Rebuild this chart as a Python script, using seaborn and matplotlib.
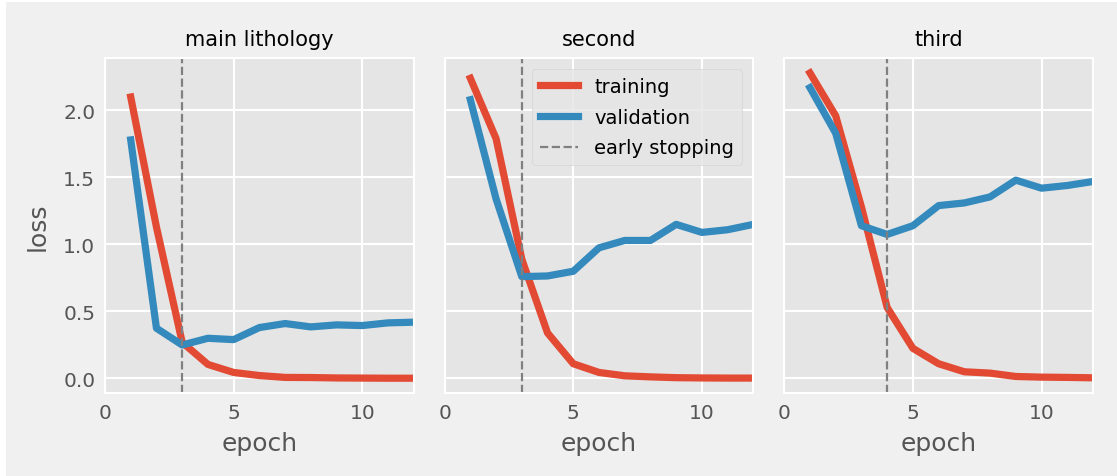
import numpy as np
import pandas as pd
import matplotlib
matplotlib.use("Agg")
import matplotlib.pyplot as plt
import seaborn as sns
from matplotlib.patches import Rectangle
from matplotlib.lines import Line2D

epochs = list(range(1, 13))
panels = ["main lithology", "second", "third"]

train_main = [2.10, 1.13, 0.27, 0.105, 0.045, 0.022, 0.008, 0.007, 0.004, 0.003, 0.002, 0.002]
val_main = [1.78, 0.375, 0.25, 0.30, 0.29, 0.38, 0.41, 0.385, 0.40, 0.395, 0.415, 0.42]
train_second = [2.24, 1.79, 0.89, 0.34, 0.11, 0.045, 0.02, 0.012, 0.006, 0.004, 0.003, 0.003]
val_second = [2.08, 1.34, 0.76, 0.765, 0.80, 0.975, 1.03, 1.03, 1.15, 1.09, 1.11, 1.15]
train_third = [2.28, 1.96, 1.28, 0.53, 0.225, 0.11, 0.05, 0.04, 0.015, 0.01, 0.008, 0.005]
val_third = [2.17, 1.83, 1.14, 1.075, 1.14, 1.29, 1.31, 1.355, 1.48, 1.42, 1.44, 1.47]
early_stop = [3, 3, 4]

train_all = [train_main, train_second, train_third]
val_all = [val_main, val_second, val_third]

rows = []
for p, tr, va in zip(panels, train_all, val_all):
    for e, t, v in zip(epochs, tr, va):
        rows.append({"panel": p, "epoch": e, "loss": t, "kind": "training"})
        rows.append({"panel": p, "epoch": e, "loss": v, "kind": "validation"})
df = pd.DataFrame(rows)

plt.style.use("ggplot")
plt.rcParams["font.family"] = ["DejaVu Sans"]

fig, axes = plt.subplots(1, 3, figsize=(11.17, 4.77), dpi=100, sharey=True)
fig.patch.set_facecolor("white")
fig.patches.append(Rectangle((6 / 1117, 0), 1, 1 - 3 / 477, transform=fig.transFigure,
                             facecolor="#f0f0f0", edgecolor="none", zorder=-10))
fig.subplots_adjust(left=0.094, right=0.9785, top=0.877, bottom=0.173, wspace=0.1)

palette = {"training": "#E24A33", "validation": "#348ABD"}

for i, (ax, p) in enumerate(zip(axes, panels)):
    sub = df[df["panel"] == p]
    sns.lineplot(data=sub, x="epoch", y="loss", hue="kind", palette=palette,
                 linewidth=5.2, ax=ax, legend=False)
    ax.axvline(early_stop[i], color="grey", linestyle="--", linewidth=1.6,
               label="early stopping")
    ax.set_facecolor("#E5E5E5")
    ax.set_xlim(0, 12)
    ax.set_xticks([0, 5, 10])
    ax.set_yticks([0.0, 0.5, 1.0, 1.5, 2.0])
    ax.grid(True, color="white", linewidth=1.5)
    for s in ax.spines.values():
        s.set_visible(True)
        s.set_color("white")
        s.set_linewidth(1.5)
    ax.tick_params(axis="both", length=0, labelsize=14.5, labelcolor="#555555", pad=7)
    ax.set_title(p, fontsize=15, color="black", pad=9)
    ax.set_xlabel("epoch", fontsize=18, color="#555555", labelpad=6)
    if i == 0:
        ax.set_ylabel("loss", fontsize=18, color="#555555", labelpad=10)
    else:
        ax.set_ylabel("")

ax = axes[1]
handles = [Line2D([], [], color="#E24A33", lw=5.2),
           Line2D([], [], color="#348ABD", lw=5.2),
           Line2D([], [], color="grey", lw=1.6, ls="--")]
leg = ax.legend(handles, ["training", "validation", "early stopping"], loc="upper right",
                fontsize=14, frameon=True, facecolor="#E5E5E5", edgecolor="#d0d0d0",
                framealpha=0.8, borderaxespad=0.6, handlelength=2.0, labelspacing=0.6)

fig.savefig("out.png", dpi=100, facecolor=fig.get_facecolor())
